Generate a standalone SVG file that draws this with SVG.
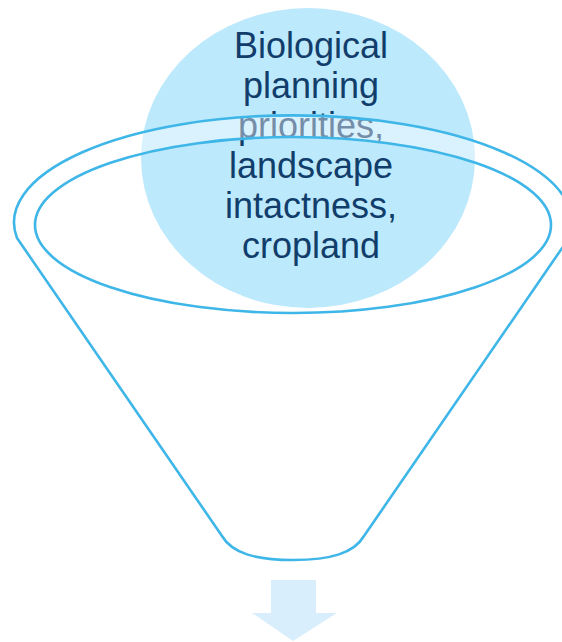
<svg xmlns="http://www.w3.org/2000/svg" width="562" height="642" viewBox="0 0 562 642">
  <style>
    .bubble { fill: #bde9fc; }
    .label { font-family: "Liberation Sans", Arial, sans-serif; font-size: 36px; fill: #113d6b; text-anchor: middle; }
    .rim { fill: #ffffff; fill-opacity: 0.42; fill-rule: evenodd; stroke: none; }
    .outline { fill: none; stroke: #3fb6e8; stroke-width: 2.6; stroke-linejoin: round; }
    .flow { fill: #d9eefd; }
  </style>

  <!-- criteria bubble -->
  <g id="criteria">
    <ellipse class="bubble" cx="308" cy="158" rx="167" ry="150"/>
    <text class="label" x="311" y="58">Biological</text>
    <text class="label" x="311" y="98">planning</text>
    <text class="label" x="311" y="138">priorities,</text>
    <text class="label" x="311" y="178">landscape</text>
    <text class="label" x="311" y="218">intactness,</text>
    <text class="label" x="311" y="258">cropland</text>
  </g>

  <!-- funnel: translucent rim band, body outline and mouth -->
  <g id="funnel">
    <path class="rim" d="M 17,238 A 279 107 0 1 1 569,238 L 364,536 C 354,553 331,560 293,560 C 255,560 232,553 222,536 Z
                         M 35,225 A 258 88 0 1 0 551,225 A 258 88 0 1 0 35,225 Z"/>
    <path class="outline" d="M 17,238 A 279 107 0 1 1 569,238 L 364,536 C 354,553 331,560 293,560 C 255,560 232,553 222,536 Z"/>
    <ellipse class="outline" cx="293" cy="225" rx="258" ry="88"/>
  </g>

  <!-- output arrow -->
  <g id="connectors">
    <path class="flow" d="M 271,580 L 316,580 L 316,613 L 337,613 L 293,641 L 252,613 L 271,613 Z"/>
  </g>
</svg>
